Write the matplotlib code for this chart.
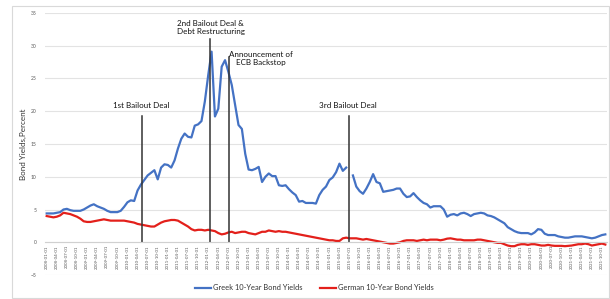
import matplotlib
matplotlib.use("Agg")
import matplotlib.pyplot as plt
import numpy as np
import pandas as pd
from matplotlib.patches import Rectangle

# ==========
# monthly yields 2008-01 .. 2021-11 [%]
greek = [
    4.4, 4.4, 4.4, 4.5, 4.6, 5.0, 5.1, 4.9, 4.8, 4.8, 4.8, 5.0,        # 2008
    5.3, 5.6, 5.8, 5.5, 5.3, 5.1, 4.8, 4.6, 4.6, 4.6, 4.8, 5.4,        # 2009
    6.1, 6.4, 6.3, 7.9, 8.8, 9.5, 10.2, 10.6, 11.0, 9.6, 11.4, 11.9,   # 2010
    11.8, 11.4, 12.5, 14.3, 15.8, 16.6, 16.1, 16.0, 17.8, 18.0, 18.5, 21.5,  # 2011
    25.5, 29.1, 19.2, 20.4, 26.8, 27.8, 26.0, 24.0, 21.0, 17.9, 17.3, 13.5,  # 2012
    11.1, 11.0, 11.2, 11.5, 9.2, 10.0, 10.5, 10.1, 10.1, 8.7, 8.6, 8.7,  # 2013
    8.1, 7.6, 7.2, 6.2, 6.3, 6.0, 6.0, 6.0, 5.9, 7.2, 8.0, 8.5,        # 2014
    9.5, 9.9, 10.7, 12.0, 10.9, 11.4, np.nan, 10.2, 8.5, 7.8, 7.4, 8.2,  # 2015
    9.2, 10.4, 9.2, 9.0, 7.7, 7.8, 7.9, 8.0, 8.2, 8.2, 7.4, 6.9,       # 2016
    7.0, 7.5, 6.9, 6.4, 6.0, 5.8, 5.3, 5.5, 5.5, 5.5, 5.0, 3.9,        # 2017
    4.2, 4.3, 4.1, 4.4, 4.5, 4.3, 4.0, 4.3, 4.4, 4.5, 4.4, 4.1,        # 2018
    4.0, 3.8, 3.5, 3.2, 2.9, 2.3, 2.0, 1.7, 1.5, 1.4, 1.4, 1.4,        # 2019
    1.2, 1.5, 2.0, 1.9, 1.3, 1.1, 1.1, 1.1, 0.9, 0.8, 0.7, 0.7,        # 2020
    0.8, 0.9, 0.9, 0.9, 0.8, 0.7, 0.6, 0.7, 0.9, 1.1, 1.2,             # 2021
]
german = [
    4.0, 3.9, 3.8, 3.9, 4.1, 4.5, 4.4, 4.3, 4.1, 3.9, 3.6, 3.2,
    3.1, 3.1, 3.2, 3.3, 3.4, 3.5, 3.4, 3.3, 3.3, 3.3, 3.3, 3.3,
    3.2, 3.1, 3.0, 2.8, 2.7, 2.6, 2.5, 2.4, 2.4, 2.7, 3.0, 3.2,
    3.3, 3.4, 3.4, 3.3, 3.0, 2.7, 2.4, 2.0, 1.8, 1.9, 1.9, 1.8,
    1.9, 1.8, 1.7, 1.4, 1.2, 1.3, 1.5, 1.6, 1.4, 1.5, 1.6, 1.6,
    1.4, 1.3, 1.2, 1.4, 1.6, 1.6, 1.8, 1.7, 1.6, 1.7, 1.6, 1.6,
    1.5, 1.4, 1.3, 1.2, 1.1, 1.0, 0.9, 0.8, 0.7, 0.6, 0.5, 0.4,
    0.3, 0.3, 0.2, 0.2, 0.6, 0.7, 0.6, 0.6, 0.6, 0.5, 0.4, 0.5,
    0.4, 0.3, 0.2, 0.1, 0.0, -0.1, -0.2, -0.2, -0.1, 0.0, 0.2, 0.3,
    0.3, 0.3, 0.2, 0.3, 0.4, 0.3, 0.4, 0.4, 0.4, 0.3, 0.4, 0.55,
    0.6, 0.5, 0.4, 0.4, 0.3, 0.3, 0.3, 0.3, 0.4, 0.4, 0.3, 0.2,
    0.1, 0.0, -0.1, -0.1, -0.3, -0.5, -0.6, -0.6, -0.4, -0.3, -0.3, -0.4,
    -0.3, -0.3, -0.4, -0.5, -0.5, -0.4, -0.5, -0.55, -0.55, -0.55, -0.6, -0.55,
    -0.5, -0.4, -0.3, -0.3, -0.2, -0.3, -0.5, -0.4, -0.3, -0.2, -0.35,
]
dates = pd.date_range("2008-01-01", periods=len(greek), freq="MS")

# events: (position in months from 2008-01, line top, label, label x, label y)
event_pos = [28.2, 48.6, 54.1, 89.75]
event_top = [19.2, 31.1, 28.3, 19.2]
event_txt = ["1st Bailout Deal", "2nd Bailout Deal &\nDebt Restructuring",
             "Announcement of\nECB Backstop", "3rd Bailout Deal"]
event_tx = [28.0, 48.8, 63.7, 89.5]
event_ty = [20.9, 32.8, 28.1, 20.9]
# ==========

plt.rcParams['font.family'] = ['Lato', 'DejaVu Sans']

fig = plt.figure(figsize=(6.10, 2.99), dpi=100)
ax = fig.add_axes([45/610, 1-275/299, 562/610, 262/299])

x = np.arange(len(greek))
ax.plot(x, greek, color='#4472C4', lw=1.6, label='Greek 10-Year Bond Yields')
ax.plot(x, german, color='#E3201B', lw=1.6, label='German 10-Year Bond Yields')

for p, t in zip(event_pos, event_top):
    ax.plot([p, p], [0, t], color='#333333', lw=1.1)
for s, tx, ty in zip(event_txt, event_tx, event_ty):
    ax.text(tx, ty, s, ha='center', va='center', fontsize=5.8, color='#111111',
            linespacing=1.2)

ax.set_xlim(-0.5, len(greek) - 0.5)
ax.set_ylim(-5, 35)
ax.set_yticks(range(-5, 36, 5))
ax.grid(axis='y', color='#e3e3e3', lw=0.8)
ax.set_axisbelow(True)
for s in ['top', 'right', 'left']:
    ax.spines[s].set_visible(False)
ax.spines['bottom'].set_position(('data', 0))
ax.spines['bottom'].set_color('#d0d0d0')
ax.spines['bottom'].set_linewidth(0.8)

tick_idx = x[::3]
ax.set_xticks(tick_idx)
ax.set_xticklabels([dates[i].strftime('%Y-%m-%d') for i in tick_idx],
                   rotation=90, fontsize=3.2, color='#595959')
ax.tick_params(axis='x', length=0, pad=2)
ax.tick_params(axis='y', length=0, pad=6, labelsize=3.6, labelcolor='#595959')
ax.set_ylabel('Bond Yields,Percent', fontsize=5.8, color='#333333', labelpad=3)

fig.legend(loc='center', bbox_to_anchor=(0.515, 0.038), ncol=2, frameon=False,
           fontsize=5.4, handlelength=2.2, handletextpad=0.2, columnspacing=2.3,
           labelcolor='#333333')

fig.patches.append(Rectangle((12/610, 0.004), 1 - 12/610 - 0.002, 1 - 6/299 - 0.004,
                             transform=fig.transFigure, fill=False,
                             edgecolor='#d9d9d9', lw=0.8))

plt.savefig('out.png', dpi=100)
